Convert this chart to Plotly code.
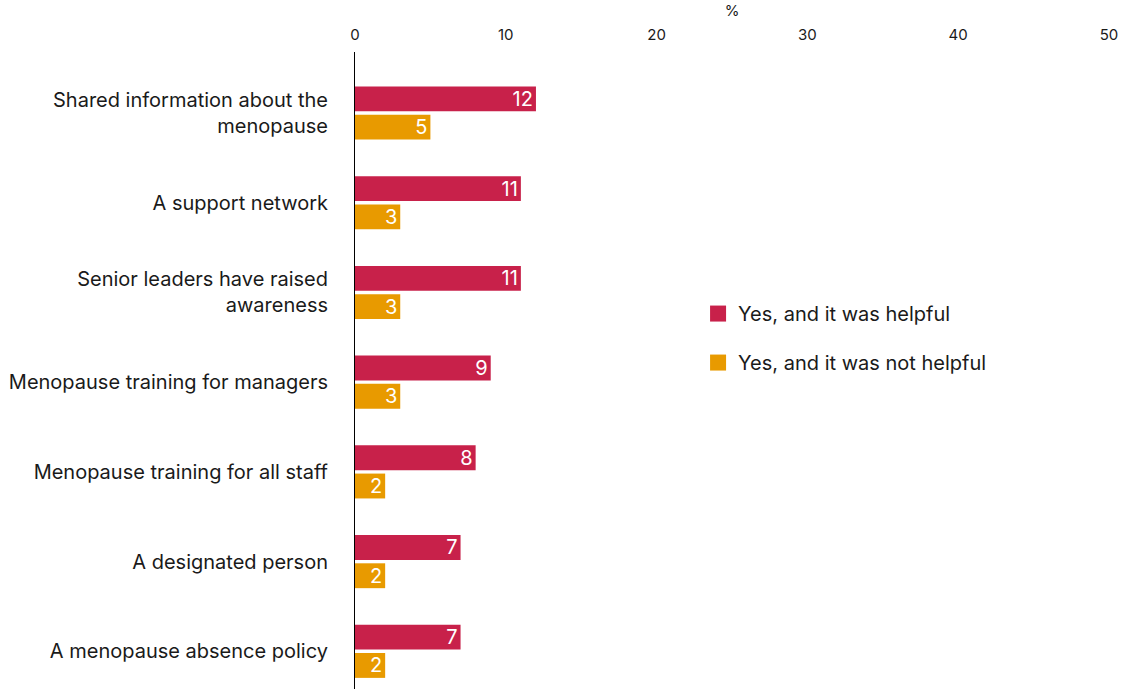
import plotly.graph_objects as go

categories = [
    "Shared information about the<br>menopause",
    "A support network",
    "Senior leaders have raised<br>awareness",
    "Menopause training for managers",
    "Menopause training for all staff",
    "A designated person",
    "A menopause absence policy",
]
helpful = [12, 11, 11, 9, 8, 7, 7]
not_helpful = [5, 3, 3, 3, 2, 2, 2]
series_names = ["Yes, and it was helpful", "Yes, and it was not helpful"]
x_ticks = [0, 10, 20, 30, 40, 50]

RED = "#C8214A"
ORANGE = "#E89A00"
FONT = "Inter, Noto Sans, sans-serif"
TEXT = "#1a1a1a"

fig = go.Figure()
for vals, name, color in [(helpful, series_names[0], RED), (not_helpful, series_names[1], ORANGE)]:
    fig.add_trace(go.Bar(
        y=categories, x=vals, orientation="h", name=name,
        marker=dict(color=color, line=dict(width=0)),
        text=[str(v) for v in vals], textposition="inside",
        insidetextanchor="end", textangle=0,
        textfont=dict(color="white", size=20, family=FONT),
        showlegend=False,
    ))

# Legend entries with larger square swatches
for i, (name, color) in enumerate([(series_names[0], RED), (series_names[1], ORANGE)]):
    fig.add_trace(go.Scatter(
        x=[None], y=[None], mode="markers", name=name,
        marker=dict(symbol="square", size=18, color=color),
        legendgroup=f"g{i}", showlegend=True,
    ))

fig.update_layout(
    width=1121, height=689,
    margin=dict(l=355, r=12, t=52, b=0),
    paper_bgcolor="white", plot_bgcolor="white",
    barmode="group", bargap=0.37, bargroupgap=0.12,
    font=dict(family=FONT, size=20, color=TEXT),
    uniformtext=dict(minsize=20, mode="show"),
    legend=dict(
        x=0.455, y=0.62, xanchor="left", yanchor="top",
        font=dict(size=20, family=FONT, color=TEXT),
        itemsizing="trace", tracegroupgap=20, bgcolor="rgba(0,0,0,0)",
    ),
    xaxis=dict(
        side="top", range=[0, 50], tickvals=x_ticks, showgrid=False,
        zeroline=False, showline=False, ticks="",
        tickfont=dict(size=15, family=FONT, color=TEXT),
        ticklabelstandoff=8,
        title=dict(text="%", font=dict(size=15, family=FONT, color=TEXT), standoff=4),
    ),
    yaxis=dict(
        categoryorder="array", categoryarray=categories,
        range=[6.42, -0.68], showgrid=False, zeroline=False,
        showline=True, linecolor="black", linewidth=1, ticks="",
        tickfont=dict(size=20, family=FONT, color=TEXT),
        ticklabelstandoff=22,
    ),
)

fig.write_html("out.html")
